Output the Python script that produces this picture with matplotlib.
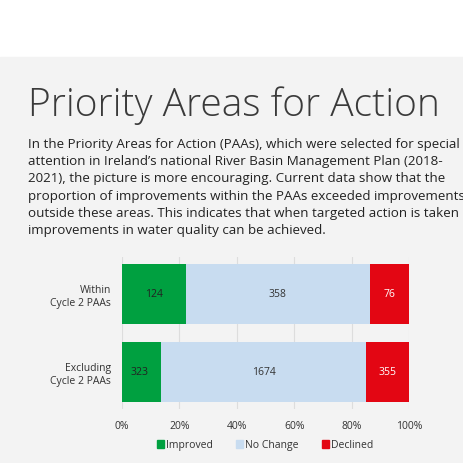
import numpy as np
import matplotlib.pyplot as plt
import matplotlib.patches as mpatches

categories = ["Within\nCycle 2 PAAs", "Excluding\nCycle 2 PAAs"]
improved = [124, 323]
no_change = [358, 1674]
declined = [76, 355]
series_names = ["Improved", "No Change", "Declined"]
colors = ["#00a040", "#c8dcf0", "#e30613"]
text_colors = ["#222222", "#333333", "#ffffff"]
tick_labels = ["0%", "20%", "40%", "60%", "80%", "100%"]

body = ("In the Priority Areas for Action (PAAs), which were selected for special\n"
        "attention in Ireland\u2019s national River Basin Management Plan (2018-\n"
        "2021), the picture is more encouraging. Current data show that the\n"
        "proportion of improvements within the PAAs exceeded improvements\n"
        "outside these areas. This indicates that when targeted action is taken\n"
        "improvements in water quality can be achieved.")

plt.rcParams['font.family'] = ['Open Sans', 'DejaVu Sans']
fig = plt.figure(figsize=(4.64, 4.64), dpi=100)
fig.patch.set_facecolor("white")
fig.add_artist(mpatches.Rectangle((0, 0), 1, 1 - 58/464, transform=fig.transFigure,
                                  color="#f3f3f3", zorder=0))

fig.text(28/464, 1 - 106/464, "Priority Areas for Action", fontsize=28, fontweight='light',
         color="#3a3a3a", va='center', ha='left')
fig.text(28/464, 1 - 138/464, body, fontsize=9.6, color="#222222", va='top', ha='left',
         linespacing=1.42)

ax = fig.add_axes([122/464, 1 - 410/464, 287/464, 152/464])
ax.set_facecolor("#f3f3f3")
data = np.array([improved, no_change, declined], dtype=float)
totals = data.sum(axis=0)
pct = data / totals * 100
y = np.arange(len(categories))
left = np.zeros(len(categories))
for i in range(3):
    ax.barh(y, pct[i], left=left, height=0.77, color=colors[i], zorder=2)
    for j in range(len(categories)):
        xc = left[j] + pct[i][j] / 2
        if i == 0 and j == 1:
            xc = left[j] + 3
        ax.text(xc, y[j], str(int(data[i][j])), ha='center' if not (i == 0 and j == 1) else 'left',
                va='center', fontsize=7.5, color=text_colors[i], zorder=3)
    left += pct[i]

ax.set_xlim(0, 100)
ax.set_ylim(1.475, -0.474)
ax.set_xticks(np.arange(0, 101, 20))
ax.set_xticklabels(tick_labels, fontsize=7.5, color="#333333")
ax.set_yticks(y)
ax.set_yticklabels(categories, fontsize=7.5, color="#333333")
ax.tick_params(length=0, pad=8)
ax.grid(axis='x', color="#dddddd", linewidth=0.8, zorder=1)
for s in ax.spines.values():
    s.set_visible(False)

handles = [mpatches.Patch(color=c, label=n) for c, n in zip(colors, series_names)]
fig.legend(handles=handles, loc='center', bbox_to_anchor=(265/464, 1 - 446/464), ncol=3,
           frameon=False, fontsize=7.5, handlelength=0.7, handleheight=0.7,
           handletextpad=0.2, columnspacing=2.2, labelcolor="#333333")

fig.savefig("out.png", dpi=100, facecolor=fig.get_facecolor())
